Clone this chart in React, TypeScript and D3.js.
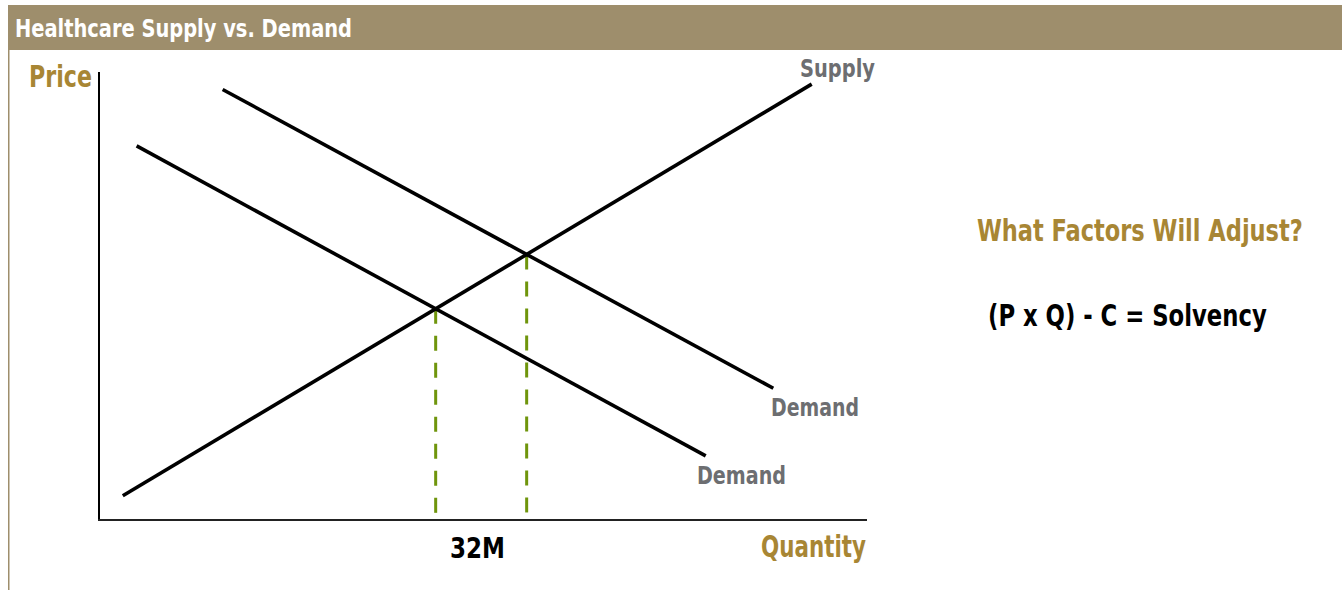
import React, { useLayoutEffect, useRef, useState } from "react";
import * as d3 from "d3";

const W = 1342;
const H = 590;

const title = "Healthcare Supply vs. Demand";
const yAxisLabel = "Price";
const xAxisLabel = "Quantity";
const tickLabel = "32M";
const sideHeading = "What Factors Will Adjust?";
const sideFormula = "(P x Q) - C = Solvency";

// curves in data units (quantity 0-100, price 0-100)
const supplyLine = [
  { q: 3.1, p: 5.4 },
  { q: 92.8, p: 97.3 },
];
const demandLow = [
  { q: 4.9, p: 83.5 },
  { q: 79.0, p: 14.3 },
];
const demandHigh = [
  { q: 16.1, p: 96.1 },
  { q: 87.8, p: 29.4 },
];
const curveNames = ["Supply", "Demand", "Demand"];

type Pt = { q: number; p: number };

function intersect(a: Pt[], b: Pt[]): Pt {
  const [p1, p2] = a;
  const [p3, p4] = b;
  const d = (p1.q - p2.q) * (p3.p - p4.p) - (p1.p - p2.p) * (p3.q - p4.q);
  const t = ((p1.q - p3.q) * (p3.p - p4.p) - (p1.p - p3.p) * (p3.q - p4.q)) / d;
  return { q: p1.q + t * (p2.q - p1.q), p: p1.p + t * (p2.p - p1.p) };
}

const FONT = "'Liberation Sans Narrow', 'DejaVu Sans Condensed', 'Roboto', sans-serif";
const GOLD = "#A88634";
const GRAY = "#6D6E71";
const GREEN = "#6F950C";
const BAND = "#9E8E6C";

function FitText({
  x,
  y,
  width,
  fill,
  size,
  children,
}: {
  x: number;
  y: number;
  width: number;
  fill: string;
  size: number;
  children: string;
}) {
  const ref = useRef<SVGTextElement>(null);
  const [s, setS] = useState(1);
  useLayoutEffect(() => {
    if (ref.current) {
      const n = ref.current.getComputedTextLength();
      if (n > 0) setS(width / n);
    }
  }, [width, children, size]);
  return (
    <text
      ref={ref}
      transform={`translate(${x},${y}) scale(${s},1)`}
      fill={fill}
      fontSize={size}
    >
      {children}
    </text>
  );
}

export default function App() {
  const x = d3.scaleLinear().domain([0, 100]).range([99, 867]);
  const y = d3.scaleLinear().domain([0, 100]).range([520, 72]);
  const line = d3
    .line<Pt>()
    .x((d) => x(d.q))
    .y((d) => y(d.p));

  const eqLow = intersect(supplyLine, demandLow);
  const eqHigh = intersect(supplyLine, demandHigh);

  return (
    <svg
      width={W}
      height={H}
      style={{ position: "absolute", left: 0, top: 0, background: "#fff" }}
      fontFamily={FONT}
      fontWeight="bold"
    >
      <rect x={0} y={0} width={W} height={H} fill="#fff" />
      {/* header band */}
      <rect x={8} y={5} width={W - 8} height={45} fill={BAND} />
      <line x1={8.75} y1={5} x2={8.75} y2={H} stroke={BAND} strokeWidth={1.5} />
      <FitText x={15} y={37} width={337} fill="#fff" size={25}>
        {title}
      </FitText>

      {/* axes */}
      <line x1={x(0)} y1={y(0)} x2={x(0)} y2={y(100)} stroke="#000" strokeWidth={2} />
      <line x1={x(0) - 1} y1={y(0)} x2={x(100)} y2={y(0)} stroke="#222" strokeWidth={2} />

      {/* equilibrium drop lines */}
      {[eqLow, eqHigh].map((e, i) => (
        <line
          key={i}
          x1={x(e.q)}
          y1={y(e.p)}
          x2={x(e.q)}
          y2={y(0)}
          stroke={GREEN}
          strokeWidth={3}
          strokeDasharray="15 12"
        />
      ))}

      {/* curves */}
      {[supplyLine, demandLow, demandHigh].map((c, i) => (
        <path key={i} d={line(c) || ""} fill="none" stroke="#000" strokeWidth={3.6} />
      ))}

      {/* curve labels */}
      <FitText x={800} y={77} width={75} fill={GRAY} size={25}>
        {curveNames[0]}
      </FitText>
      <FitText x={771} y={416} width={88} fill={GRAY} size={25}>
        {curveNames[2]}
      </FitText>
      <FitText x={697} y={484} width={89} fill={GRAY} size={25}>
        {curveNames[1]}
      </FitText>

      {/* axis labels */}
      <FitText x={29} y={87} width={63} fill={GOLD} size={31}>
        {yAxisLabel}
      </FitText>
      <FitText x={761} y={557} width={105} fill={GOLD} size={31}>
        {xAxisLabel}
      </FitText>
      <FitText x={450} y={558} width={55} fill="#000" size={29}>
        {tickLabel}
      </FitText>

      {/* side text */}
      <FitText x={977} y={241} width={326} fill={GOLD} size={31}>
        {sideHeading}
      </FitText>
      <FitText x={988} y={326} width={279} fill="#000" size={31}>
        {sideFormula}
      </FitText>
    </svg>
  );
}
